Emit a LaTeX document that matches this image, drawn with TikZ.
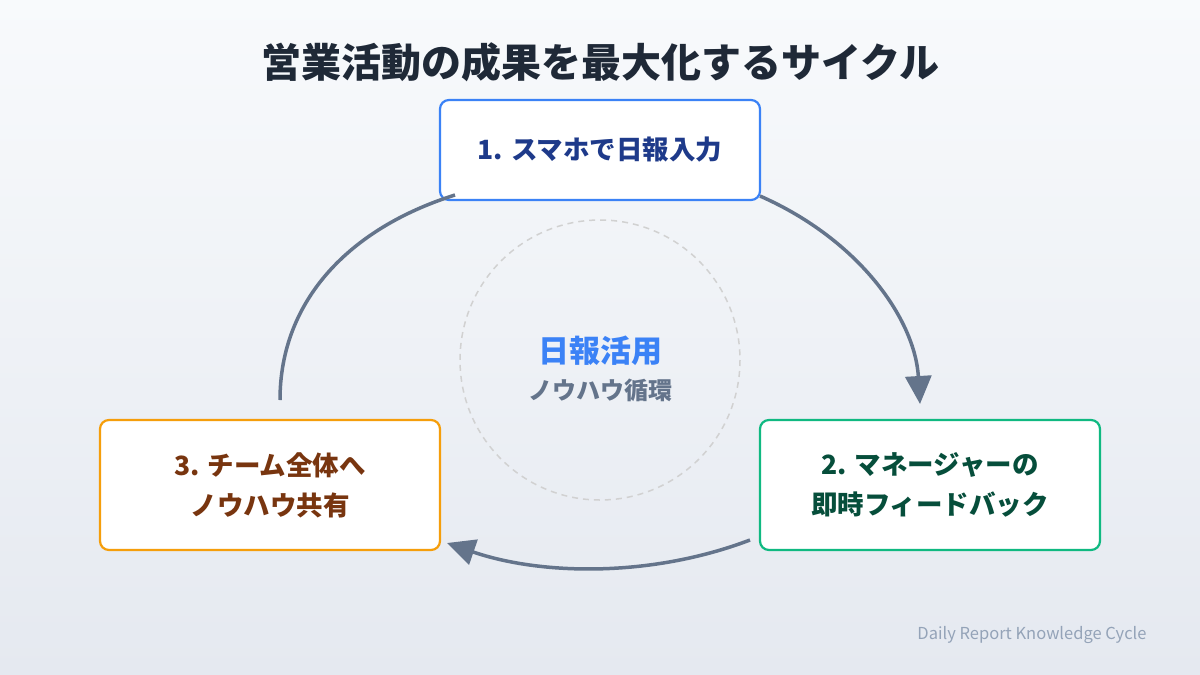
\documentclass[tikz,border=0pt]{standalone}
\usepackage{fontspec}
\setmainfont{Noto Sans CJK JP}
\usetikzlibrary{arrows.meta}
\definecolor{bgA}{HTML}{F8FAFC}
\definecolor{bgB}{HTML}{E5E9F0}
\definecolor{slate}{HTML}{64748B}
\definecolor{ttl}{HTML}{1F2937}
\begin{document}
\begin{tikzpicture}[x=1pt,y=-1pt,
  box/.style={draw,line width=2.2pt,fill=white,rounded corners=9pt,align=center,font=\bfseries\fontsize{26.5}{40}\selectfont,inner sep=0pt},
  arr/.style={draw=slate,line width=3.5pt,-{Triangle[length=28pt,width=26pt]}}]
\shade[top color=bgA,bottom color=bgB] (0,0) rectangle (1200,675);
\useasboundingbox (0,0) rectangle (1200,675);
\node[font=\bfseries\fontsize{40}{46}\selectfont,text=ttl] (title) at (600,62) {営業活動の成果を最大化するサイクル};
\draw[color=black!18,line width=1.5pt,dash pattern=on 6pt off 5pt] (600,360) circle (140);
\node[font=\bfseries\fontsize{31}{34}\selectfont,text={rgb,255:red,59;green,130;blue,246}] (c1) at (600,351) {日報活用};
\node[font=\bfseries\fontsize{24}{26}\selectfont,text=slate] (c2) at (600,390) {ノウハウ循環};
\node[box,draw={rgb,255:red,59;green,130;blue,246},text={rgb,255:red,30;green,58;blue,138},minimum width=320,minimum height=100] (b1) at (600,150) {1. スマホで日報入力};
\node[box,draw={rgb,255:red,16;green,185;blue,129},text={rgb,255:red,6;green,78;blue,59},minimum width=340,minimum height=130] (b2) at (930,485) {2. マネージャーの\\即時フィードバック};
\node[box,draw={rgb,255:red,245;green,158;blue,11},text={rgb,255:red,120;green,53;blue,15},minimum width=340,minimum height=130] (b3) at (270,485) {3. チーム全体へ\\ノウハウ共有};
\coordinate (a1s) at (760,196);
\coordinate (a1e) at (920,404);
\coordinate (a2s) at (750,540);
\coordinate (a2e) at (447,543);
\coordinate (a3s) at (280,400);
\coordinate (a3e) at (455,195);
\draw[arr] (a1s) .. controls (860,240) and (915,320) .. (a1e);
\draw[arr] (a2s) .. controls (650,578) and (540,575) .. (a2e);
\draw[arr,-] (a3s) .. controls (280,300) and (350,228) .. (a3e);
\node[anchor=east,font=\fontsize{16.5}{19}\selectfont,text={rgb,255:red,148;green,163;blue,184}] (ft) at (1150,635) {Daily Report Knowledge Cycle};
\end{tikzpicture}
\end{document}
